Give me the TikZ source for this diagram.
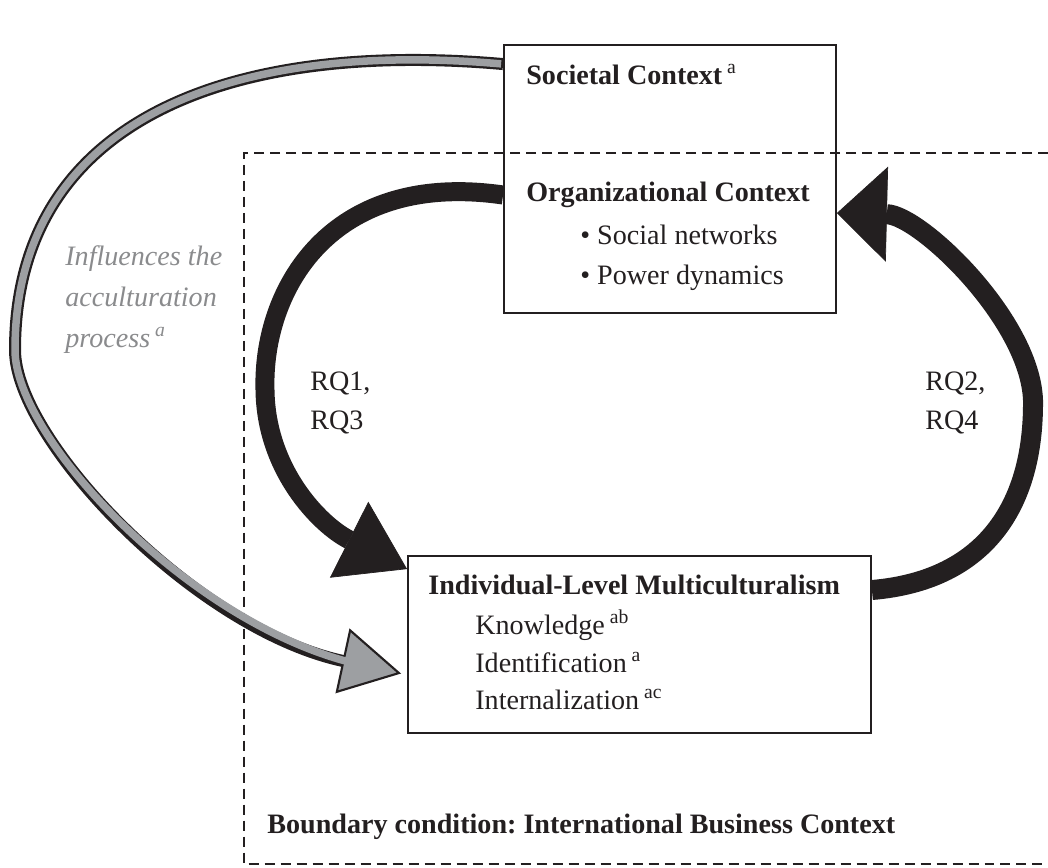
\documentclass[tikz,border=0pt]{standalone}
\usepackage{fontspec}
\setmainfont{Liberation Serif}
\usetikzlibrary{arrows.meta,calc}
\definecolor{ink}{HTML}{231F20}
\definecolor{arrowgrey}{HTML}{9D9FA2}
\definecolor{notegrey}{HTML}{8A8B8D}
\frenchspacing

\begin{document}
\begin{tikzpicture}[x=0.02cm,y=-0.02cm,
    every node/.style={font=\fontsize{16}{20}\selectfont,text=ink},
    box/.style={draw=ink,line width=1.1pt,inner sep=0pt},
    lbl/.style={anchor=west,inner sep=0pt,align=left},
    listed/.style={lbl,font=\fontsize{16}{#1}\selectfont},
    rqflow/.style={draw=ink,line width=#1},
    greyflow/.style={draw=ink,line width=0.24cm,
      -{Triangle[width=1.32cm,length=1.2cm,fill=arrowgrey,line width=1.2pt]},
      postaction={draw=arrowgrey,line width=0.15cm,arrows=-,shorten <=0.04cm,shorten >=0.8cm}}]
    \useasboundingbox (0,0) rectangle (1048,867);

    \node[box,minimum width=6.64cm,minimum height=5.36cm] (soc) at (670,179) {};
    \node[box,minimum width=9.26cm,minimum height=3.54cm] (ind) at (639.5,644.5) {};

    \node[lbl] (soctitle) at (526,75) {\textbf{Societal Context}\textsuperscript{ a}};
    \node[lbl] (org) at (526,195) {\textbf{Organizational Context}};
    \node[listed=22.7] (orgitems) at (580,258) {\textbullet\ Social networks\\\textbullet\ Power dynamics};
    \node[lbl] (indtitle) at (428,585) {\textbf{Individual-Level Multiculturalism}};
    \node[listed=21.3] (inditems) at (475,660) {Knowledge\textsuperscript{ ab}\\Identification\textsuperscript{ a}\\Internalization\textsuperscript{ ac}};
    \node[lbl] (bound) at (267,827) {\textbf{Boundary condition: International Business Context}};
    \node[listed=23.3,font=\itshape\fontsize{16}{23.3}\selectfont,text=notegrey] (infl) at (65,300) {Influences the\\acculturation\\process\textsuperscript{ a}};
    \node[listed=22.7] (rqa) at (310,403) {RQ1,\\RQ3};
    \node[listed=22.7] (rqb) at (925,403) {RQ2,\\RQ4};

    \draw[ink,line width=1.6pt,dash pattern=on 0.2cm off 0.12cm]
      (1048,153) -- (244,153) -- (244,864) -- (1048,864);

    \draw[greyflow] ($(soc.north west)+(0,20)$) .. controls (230,40) and (15,120) .. (15,350)
      .. controls (15,440) and (195,629) .. ($(ind.west)+(-6,29)$);
    \draw[rqflow=0.38cm,-{Triangle[width=1.7cm,length=1.3cm,line width=0.4pt]}]
      (soc.west |- org) .. controls (330,170) and (262,290) .. (265,390)
      .. controls (266,470) and (320,525) .. ($(ind.north west)+(0,14)$);
    \draw[rqflow=0.4cm,-{Triangle[width=1.9cm,length=1cm,line width=0.4pt]}]
      ($(ind.east |- indtitle)+(0,5)$) .. controls (990,580) and (1034,500) .. (1033,400)
      .. controls (1030,320) and (920,215) .. ($(soc.east |- org)+(0,18)$);
\end{tikzpicture}
\end{document}
